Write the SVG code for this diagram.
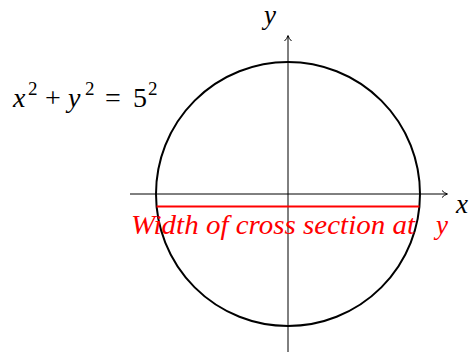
<svg xmlns="http://www.w3.org/2000/svg" width="472" height="353" viewBox="0 0 472 353">
<style>
.axis{stroke:#000;stroke-width:1;fill:none}
.circ{stroke:#000;stroke-width:2;fill:none}
.red{stroke:#ff0000;stroke-width:2;fill:none}
.t{font-family:"Liberation Serif","DejaVu Serif",serif;font-size:27px}
.eq{font-size:28px}
.it{font-style:italic}
.sup{font-size:19px}
</style>
<defs>
<marker id="arr" markerWidth="10" markerHeight="10" refX="8" refY="5" orient="auto" markerUnits="userSpaceOnUse">
<path d="M3,1.5 Q5,4 8.5,5 Q5,6 3,8.5" fill="none" stroke="#000" stroke-width="1"/>
</marker>
</defs>
<g id="connectors">
<line class="axis" x1="130" y1="194" x2="447" y2="194" marker-end="url(#arr)"/>
<line class="axis" x1="288" y1="352" x2="288" y2="36" marker-end="url(#arr)"/>
</g>
<g id="circle">
<circle class="circ" cx="288" cy="194" r="132"/>
</g>
<g id="width-line">
<line class="red" x1="156.6" y1="206.5" x2="419.4" y2="206.5"/>
<text class="t it" y="234" fill="#ff0000"><tspan x="131" textLength="284" lengthAdjust="spacingAndGlyphs">Width of cross section at</tspan><tspan x="436">y</tspan></text>
</g>
<g id="labels">
<text class="t it" x="456" y="213">x</text>
<text class="t it" x="264" y="24" font-size="26">y</text>
<text class="t eq" y="107"><tspan class="it" x="13">x</tspan><tspan class="sup" x="28" y="95">2</tspan><tspan x="45" y="107">+</tspan><tspan class="it" x="68">y</tspan><tspan class="sup" x="85" y="95">2</tspan><tspan x="105" y="107">=</tspan><tspan x="133">5</tspan><tspan class="sup" x="148" y="95">2</tspan></text>
</g>
</svg>
